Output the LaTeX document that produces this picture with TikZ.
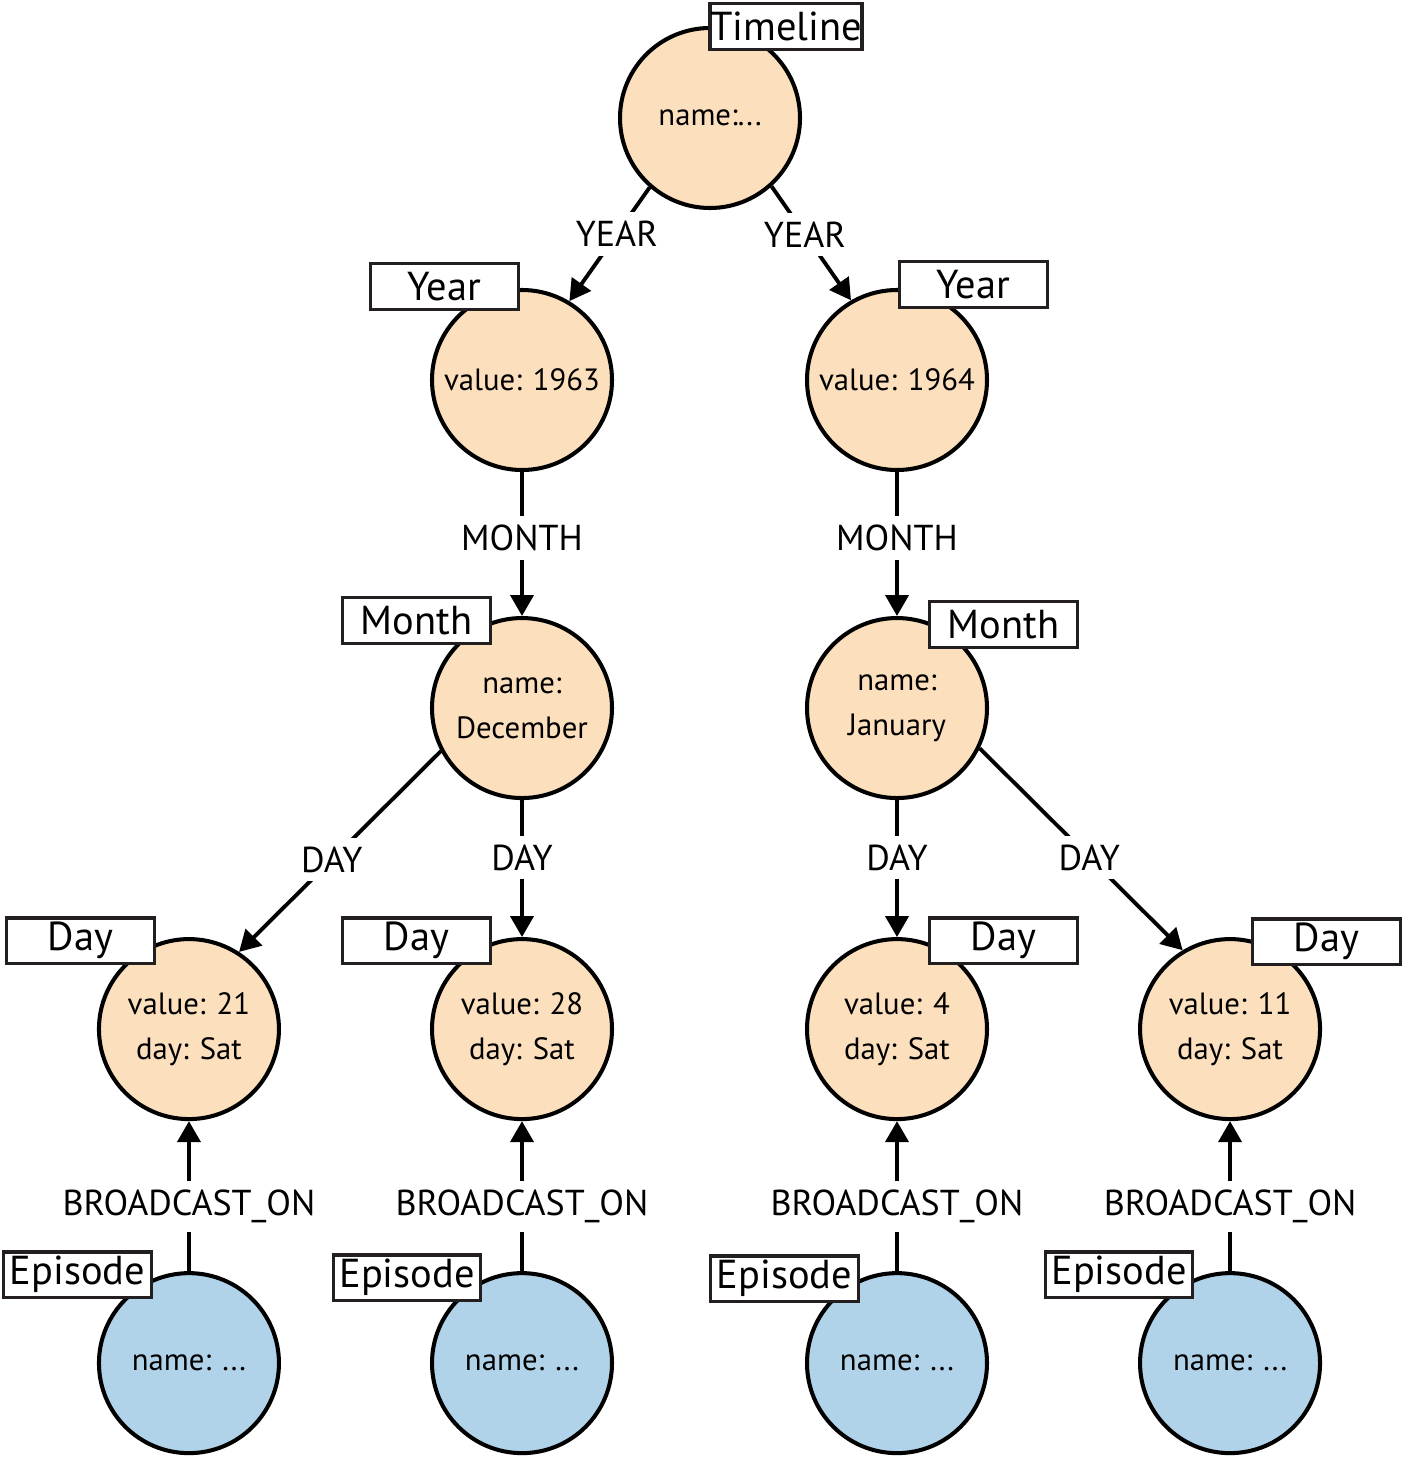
\documentclass[tikz,border=0pt]{standalone}
\usepackage{fontspec}
\setmainfont{PT Sans}
\usepackage{tikz}
\usetikzlibrary{arrows.meta, positioning, calc}
\definecolor{fPeach}{HTML}{FCDFBD}
\definecolor{fSky}{HTML}{B1D3E9}
\definecolor{bdr}{HTML}{231F20}
\tikzset{
  N/.style={circle, draw=black, line width=2.3pt, fill=fPeach,
    minimum size=3.6cm, inner sep=0pt, align=center,
    font=\fontsize{17.5}{25.6}\selectfont},
  Ne/.style={N, fill=fSky},
  L/.style={draw=bdr, line width=1.9pt, fill=white,
    minimum width=2.95cm, minimum height=0.91cm, inner sep=0pt,
    font=\fontsize{23}{26}\selectfont},
  A/.style={-{Triangle[length=0.42cm,width=0.46cm]}, line width=2.2pt},
  rel/.style={fill=white, inner xsep=1pt, inner ysep=5pt,
    font=\fontsize{20.5}{22}\selectfont},
}
\begin{document}
\begin{tikzpicture}
\useasboundingbox (0,0) rectangle (28.08,-29.16);

% ── root and years ───────────────────────────────────────────────────
\node[N] (tl) at (14.2,-2.36) {name:...};
\node[N] (y63) at ($(tl)+(-3.76,-5.24)$) {value: 1963};
\node[N] (y64) at ($(tl)+(3.74,-5.24)$) {value: 1964};
\draw[A] (tl.229) -- (y63.59) node[pos=0.41, rel]{YEAR};
\draw[A] (tl.312) -- (y64.120) node[pos=0.42, rel]{YEAR};

% ── months ───────────────────────────────────────────────────────────
\node[N, below=2.88cm of y63] (mdec) {name:\\December};
\node[N, below=2.88cm of y64] (mjan) {name:\\January};
\draw[A] (y63) -- (mdec) node[pos=0.46, rel]{MONTH};
\draw[A] (y64) -- (mjan) node[pos=0.46, rel]{MONTH};

% ── days ─────────────────────────────────────────────────────────────
\node[N, below=2.74cm of mdec] (d28) {value: 28\\day: Sat};
\node[N, left=2.98cm of d28] (d21) {value: 21\\day: Sat};
\node[N, below=2.74cm of mjan] (d4) {value: 4\\day: Sat};
\node[N, right=2.98cm of d4] (d11) {value: 11\\day: Sat};
\draw[A] (mdec.208) -- (d21.57) node[pos=0.54, rel]{DAY};
\draw[A] (mdec) -- (d28) node[pos=0.42, rel]{DAY};
\draw[A] (mjan) -- (d4) node[pos=0.42, rel]{DAY};
\draw[A] (mjan.334) -- (d11.121) node[pos=0.54, rel]{DAY};

% ── episodes ─────────────────────────────────────────────────────────
\node[Ne, below=3.0cm of d21] (e1) {name: ...};
\node[Ne, below=3.0cm of d28] (e2) {name: ...};
\node[Ne, below=3.0cm of d4] (e3) {name: ...};
\node[Ne, below=3.0cm of d11] (e4) {name: ...};
\foreach \ep/\dd in {e1/d21, e2/d28, e3/d4, e4/d11}
  \draw[A] (\ep) -- (\dd) node[pos=0.43, rel]{BROADCAST\_ON};

% ── label boxes (drawn last, over the circles) ───────────────────────
\node[L] (ltl) at ($(tl)+(1.52,1.83)$) {Timeline};
\node[L] (ly63) at ($(y63)+(-1.55,1.87)$) {Year};
\node[L] (ly64) at ($(y64)+(1.53,1.91)$) {Year};
\node[L] (lmdec) at ($(mdec)+(-2.11,1.75)$) {Month};
\node[L] (lmjan) at ($(mjan)+(2.13,1.67)$) {Month};
\node[L] (ld21) at ($(d21)+(-2.17,1.77)$) {Day};
\node[L] (ld28) at ($(d28)+(-2.11,1.77)$) {Day};
\node[L] (ld4) at ($(d4)+(2.13,1.77)$) {Day};
\node[L] (ld11) at ($(d11)+(1.93,1.75)$) {Day};
\node[L] (le1) at ($(e1)+(-2.23,1.77)$) {Episode};
\node[L] (le2) at ($(e2)+(-2.30,1.71)$) {Episode};
\node[L] (le3) at ($(e3)+(-2.25,1.69)$) {Episode};
\node[L] (le4) at ($(e4)+(-2.22,1.77)$) {Episode};

\end{tikzpicture}
\end{document}
